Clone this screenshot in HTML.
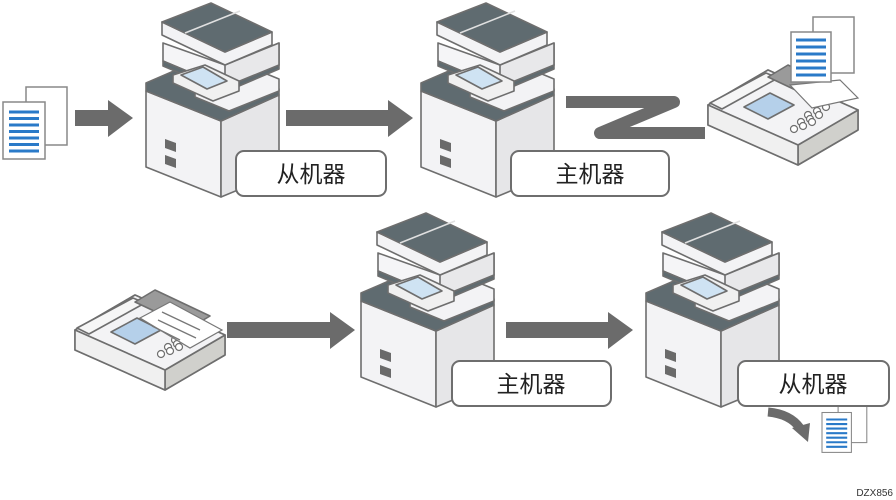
<!DOCTYPE html>
<html><head><meta charset="utf-8"><style>
html,body{margin:0;padding:0;background:#fff;width:896px;height:500px;overflow:hidden}
svg{display:block}
</style></head><body>
<svg width="896" height="500" viewBox="0 0 896 500" xmlns="http://www.w3.org/2000/svg">
<defs>
<g id="printer" stroke="#6e6e6e" stroke-width="1.6" stroke-linejoin="round">
  <polygon points="1,88 76,118 76,194 1,164" fill="#f3f3f5"/>
  <polygon points="76,118 134,92 134,170 76,194" fill="#e6e6e8"/>
  <polygon points="1,80 52,58 134,86 134,92 76,118 1,88" fill="#5f6b70"/>
  <polygon points="50,80 100,62 134,76 134,88 84,108 50,94" fill="#f3f3f5"/>
  <polygon points="18,40 18,58 80,84 134,62 134,40 80,62" fill="#f5f5f7"/>
  <polygon points="18,58 80,84 134,62 134,66 80,89 18,63" fill="#5f6b70"/>
  <polygon points="80,62 134,40 134,62 80,84" fill="#e8e8ea"/>
  <polygon points="17,19 17,32 80,62 127,42 127,29 80,49" fill="#f3f3f5"/>
  <polygon points="17,19 66,0 127,29 80,49" fill="#5f6b70"/>
  <line x1="40" y1="30" x2="95" y2="8" stroke="#e0e0e0" stroke-width="1.5"/>
  <polygon points="28,72 60,62 94,78 94,88 68,98 28,80" fill="#f0f0f0"/>
  <polygon points="36,72 58,64 82,78 62,86" fill="#cfe3f3"/>
  <polygon points="20,136 31,140 31,149 20,145" fill="#6a6a6a" stroke="none"/>
  <polygon points="20,152 31,156 31,165 20,161" fill="#6a6a6a" stroke="none"/>
</g>
<g id="doc">
  <rect x="23" y="0" width="41" height="58" fill="#fff" stroke="#888" stroke-width="1.5"/>
  <rect x="0" y="15" width="42" height="57" fill="#fff" stroke="#888" stroke-width="1.5"/>
  <g stroke="#2a7ac8" stroke-width="3">
    <line x1="6" y1="25" x2="36" y2="25"/><line x1="6" y1="31.5" x2="36" y2="31.5"/>
    <line x1="6" y1="38" x2="36" y2="38"/><line x1="6" y1="44.5" x2="36" y2="44.5"/>
    <line x1="6" y1="51" x2="36" y2="51"/><line x1="6" y1="57.5" x2="36" y2="57.5"/>
    <line x1="6" y1="64" x2="36" y2="64"/>
  </g>
</g>
<g id="faxbase" stroke="#6e6e6e" stroke-width="1.6" stroke-linejoin="round">
  <polygon points="0,90 60,55 150,95 150,115 90,150 0,110" fill="#e8e8ea"/>
  <polygon points="90,130 150,95 150,115 90,150" fill="#d0d0cc"/>
  <polygon points="0,90 60,55 150,95 90,130" fill="#f3f3f5"/>
  <polygon points="0,90 90,130 90,150 0,110" fill="#f0f0f0"/>
  <polygon points="2,88 58,58 70,63 14,94" fill="#f6f6f6"/>
  <polygon points="60,62 80,50 135,76 115,88" fill="#9a9a9a"/>
  <polygon points="36,92 62,78 86,90 60,104" fill="#b5d0ea"/>
  <g fill="#fff" stroke-width="1.2">
    <circle cx="100" cy="100" r="3.5"/><circle cx="109" cy="96" r="3.5"/><circle cx="118" cy="92" r="3.5"/>
    <circle cx="93" cy="107" r="3.5"/><circle cx="102" cy="104" r="3.5"/><circle cx="111" cy="100" r="3.5"/>
    <circle cx="86" cy="114" r="3.5"/><circle cx="95" cy="111" r="3.5"/><circle cx="104" cy="107" r="3.5"/>
  </g>
</g>
</defs>

<use href="#doc" x="3" y="87"/>
<polygon points="75,110 108,110 108,100 133,118 108,137 108,126 75,126" fill="#6b6b6b"/>
<use href="#printer" x="145" y="3"/>
<polygon points="286,110 388,110 388,100 413,118 388,137 388,126 286,126" fill="#6b6b6b"/>
<use href="#printer" x="420" y="3"/>
<polyline points="566,102 674,102 600,133 705,133" fill="none" stroke="#6b6b6b" stroke-width="12" stroke-linejoin="round"/>

<use href="#faxbase" x="708" y="15"/>
<polygon points="790,85 840,80 858,98 812,108" fill="#fff" stroke="#777" stroke-width="1.2"/>
<rect x="813" y="17" width="41" height="56" fill="#fff" stroke="#888" stroke-width="1.5"/>
<rect x="791" y="32" width="40" height="50" fill="#fff" stroke="#888" stroke-width="1.5"/>
<g stroke="#2a7ac8" stroke-width="3">
  <line x1="796" y1="40" x2="826" y2="40"/><line x1="796" y1="47" x2="826" y2="47"/>
  <line x1="796" y1="54" x2="826" y2="54"/><line x1="796" y1="61" x2="826" y2="61"/>
  <line x1="796" y1="68" x2="826" y2="68"/><line x1="796" y1="75" x2="826" y2="75"/>
</g>

<use href="#faxbase" x="75" y="240"/>
<polygon points="140,318 170,302 222,330 190,348" fill="#fff" stroke="#777" stroke-width="1.2"/>
<g stroke="#777" stroke-width="1.3">
  <line x1="162" y1="312" x2="200" y2="330"/><line x1="158" y1="320" x2="196" y2="338"/>
  <line x1="152" y1="326" x2="180" y2="340"/>
</g>
<polygon points="227,322 330,322 330,312 355,330 330,349 330,338 227,338" fill="#6b6b6b"/>
<use href="#printer" x="360" y="213"/>
<polygon points="506,322 608,322 608,312 633,330 608,349 608,338 506,338" fill="#6b6b6b"/>
<use href="#printer" x="645" y="213"/>

<path d="M768,412 Q790,414 800,428" fill="none" stroke="#6b6b6b" stroke-width="9"/>
<polygon points="792,428 810,423 808,442" fill="#6b6b6b"/>
<use href="#doc" x="822" y="402" transform="translate(822,402) scale(0.7) translate(-822,-402)"/>

<g fill="#fff" stroke="#6e6e6e" stroke-width="2">
  <rect x="236" y="151" width="150" height="45" rx="8"/>
  <rect x="511" y="151" width="158" height="45" rx="8"/>
  <rect x="452" y="361" width="159" height="45" rx="8"/>
  <rect x="738" y="361" width="151" height="45" rx="8"/>
</g>
<g font-family="'Liberation Sans','Noto Sans CJK SC',sans-serif" font-size="23" fill="#222" text-anchor="middle">
  <text x="311" y="182">从机器</text>
  <text x="590" y="182">主机器</text>
  <text x="531" y="392">主机器</text>
  <text x="813" y="392">从机器</text>
</g>
<text x="893" y="496" text-anchor="end" font-family="'Liberation Sans',sans-serif" font-size="10" fill="#333">DZX856</text>
</svg>
</body></html>
